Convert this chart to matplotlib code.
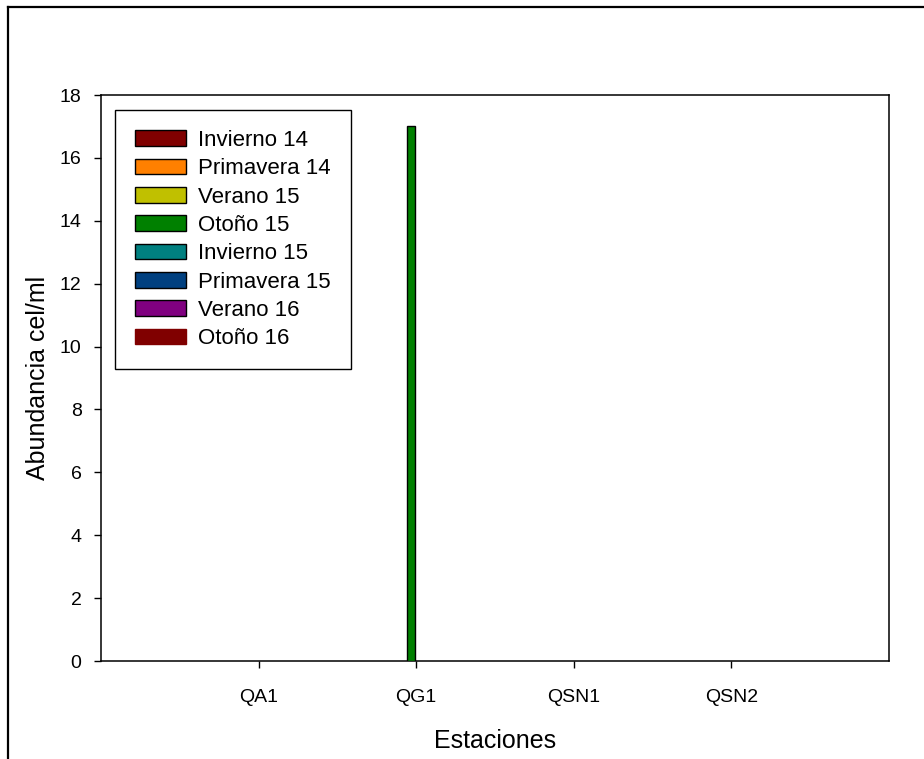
import matplotlib
matplotlib.use("Agg")
import matplotlib.pyplot as plt
from matplotlib.lines import Line2D
from matplotlib.patches import Patch
import numpy as np

plt.rcParams['font.family'] = ['Liberation Sans', 'DejaVu Sans']

stations = ["QA1", "QG1", "QSN1", "QSN2"]
seasons = ["Invierno 14", "Primavera 14", "Verano 15", "Otoño 15",
           "Invierno 15", "Primavera 15", "Verano 16", "Otoño 16"]
colors = ["#800000", "#FF8000", "#C0C000", "#008000",
          "#008080", "#004080", "#800080", "#800000"]

# abundance (cel/ml) per season, one value per station
invierno14 = [0, 0, 0, 0]
primavera14 = [0, 0, 0, 0]
verano15 = [0, 0, 0, 0]
otono15 = [0, 17, 0, 0]
invierno15 = [0, 0, 0, 0]
primavera15 = [0, 0, 0, 0]
verano16 = [0, 0, 0, 0]
otono16 = [0, 0, 0, 0]
series = [invierno14, primavera14, verano15, otono15,
          invierno15, primavera15, verano16, otono16]

W, H = 924, 759
fig = plt.figure(figsize=(W / 100, H / 100), dpi=100)
ax = fig.add_axes([101 / W, 1 - 661 / H, 788 / W, 566 / H])

x = np.arange(1, len(stations) + 1)
step = 0.068
bw = 0.05
for i, (vals, c) in enumerate(zip(series, colors)):
    vals = np.asarray(vals, dtype=float)
    mask = vals > 0
    if mask.any():
        ax.bar(x[mask] + (i - 3.5) * step, vals[mask], width=bw, color=c,
               edgecolor="black", linewidth=1.0, zorder=3)

ax.set_xlim(0, 5)
ax.set_ylim(0, 18)
ax.set_yticks(np.arange(0, 19, 2))
ax.set_xticks(x)
ax.set_xticklabels(stations)
ax.tick_params(axis="both", direction="out", length=5, width=1,
               labelsize=14, pad=9, top=False, right=False)
ax.tick_params(axis="x", pad=15)
for s in ax.spines.values():
    s.set_linewidth(1.1)

ax.set_xlabel("Estaciones", fontsize=18, labelpad=17)
ax.set_ylabel("Abundancia cel/ml", fontsize=18, labelpad=7)

handles = []
for i, (lab, c) in enumerate(zip(seasons, colors)):
    ec = "black" if i < len(seasons) - 1 else c
    handles.append(Patch(facecolor=c, edgecolor=ec, linewidth=1.0, label=lab))
leg = ax.legend(handles=handles, loc="upper left",
                bbox_to_anchor=(14 / 788, 1 - 15 / 566), borderaxespad=0,
                fontsize=16, handlelength=2.3, handleheight=0.72,
                labelspacing=0.33, handletextpad=0.55, borderpad=0.9,
                fancybox=False, framealpha=1, edgecolor="black")
leg.get_frame().set_linewidth(1.0)

# outer frame around the figure
fig.add_artist(Line2D([8 / W, 8 / W], [-0.01, 1 - 7 / H], color="black",
                      linewidth=1.6, transform=fig.transFigure))
fig.add_artist(Line2D([8 / W, 1.01], [1 - 7 / H, 1 - 7 / H], color="black",
                      linewidth=1.6, transform=fig.transFigure))

fig.savefig("out.png", dpi=100)
